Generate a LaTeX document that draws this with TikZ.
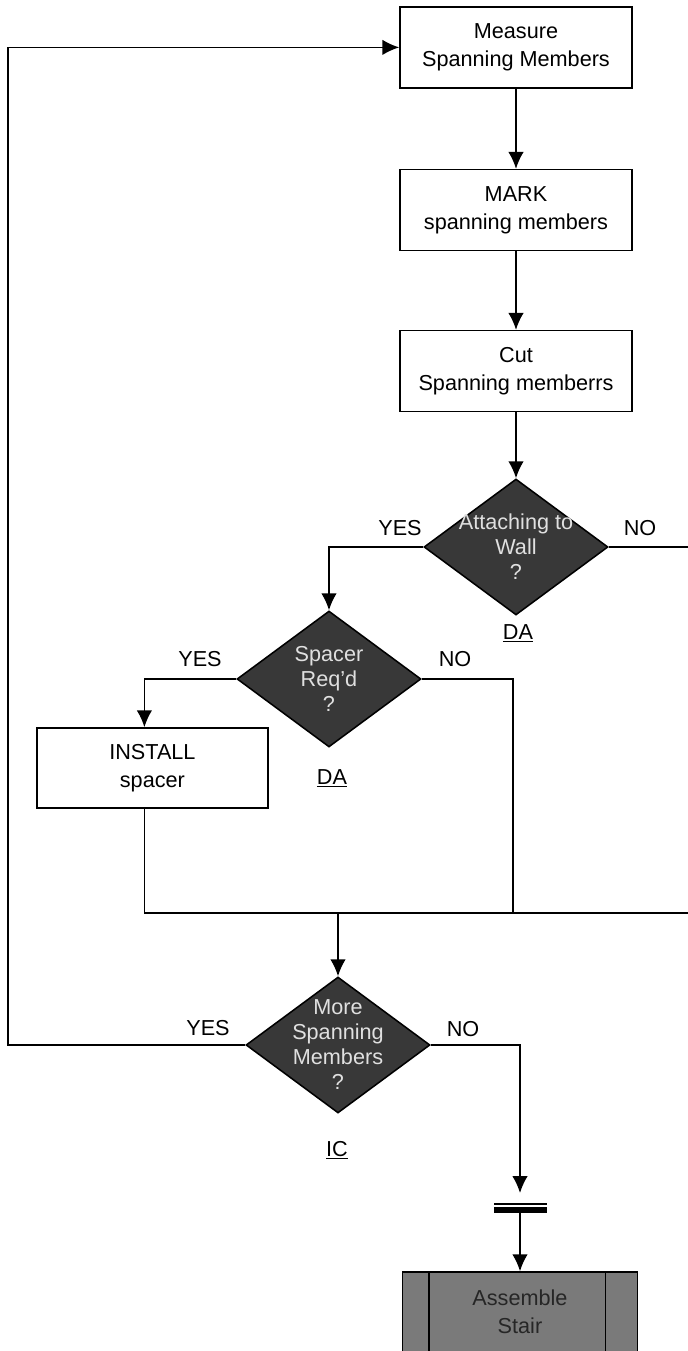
\documentclass[tikz,border=0pt]{standalone}
\usepackage{fontspec}
\setmainfont{Liberation Sans}
\usetikzlibrary{shapes.geometric,arrows.meta}

\begin{document}
\begin{tikzpicture}[line width=1.1pt, >={Latex[length=12pt,width=11pt]},
		boite/.style={rectangle, draw, minimum width=5.8cm, minimum height=2.02cm, align=center, font=\fontsize{15.4}{20}\selectfont},
		losange/.style={diamond, draw, fill=black!78, minimum width=4.6cm, minimum height=3.4cm, inner sep=0pt},
		question/.style={align=center, text=black!12, font=\fontsize{15.4}{17.8}\selectfont},
		reponse/.style={font=\fontsize{15.4}{20}\selectfont}]
			\useasboundingbox (0,0) rectangle (17.175,33.775);
			\draw (12.9,32.59) node[boite] (M) {Measure\\Spanning Members};
			\draw (12.9,28.525) node[boite] (K) {MARK\\spanning members};
			\draw (12.9,24.5) node[boite] (C) {Cut\\Spanning memberrs};
			\draw (12.9,20.1) node[losange] (W) {} node[question] (Wt) {Attaching to\\Wall\\?};
			\draw (8.225,16.8) node[losange] (S) {} node[question] (St) {Spacer\\Req'd\\?};
			\draw (3.81,14.575) node[boite, minimum width=5.78cm, minimum height=2cm] (I) {INSTALL\\spacer};
			\draw (8.45,7.65) node[losange] (P) {} node[question] (Pt) {More\\Spanning\\Members\\?};
			\draw (13.0,0.975) node[boite, fill=black!52, text=black!85, minimum width=5.875cm, minimum height=2cm] (A) {Assemble\\Stair};
			\draw ([xshift=0.675cm]A.north west) -- ([xshift=0.675cm]A.south west);
			\draw ([xshift=-0.825cm]A.north east) -- ([xshift=-0.825cm]A.south east);
			\draw (10.0,20.575) node[reponse] (Y1) {YES};
			\draw (16.0,20.575) node[reponse] (N1) {NO};
			\draw (12.95,17.95) node[reponse] (D1) {\underline{DA}};
			\draw (5.0,17.3) node[reponse] (Y2) {YES};
			\draw (11.375,17.3) node[reponse] (N2) {NO};
			\draw (8.3,14.325) node[reponse] (D2) {\underline{DA}};
			\draw (5.2,8.075) node[reponse] (Y3) {YES};
			\draw (11.575,8.05) node[reponse] (N3) {NO};
			\draw (8.425,5.025) node[reponse] (IC) {\underline{IC}};
			\coordinate (L) at (0.2,32.59);
			\coordinate (R) at (17.6,10.95);
			\coordinate (N) at (12.825,10.95);
			\coordinate (J) at (8.45,10.95);
			\coordinate (T) at (13.0,3.95);
			\coordinate (U) at (13.0,3.47);
			\draw[->] (M) -- (K);
			\draw[->] (K) -- (C);
			\draw[->] (C) -- (W);
			\draw[->] (W.west) -| (S.north);
			\draw[->] (S.west) -| ([xshift=-0.2cm]I.north);
			\draw (W.east) -| (R) -| ([xshift=-0.2cm]I.south);
			\draw (S.east) -| (N);
			\draw[->] (J) -- (P.north);
			\draw[->] (P.west) -| (L) -- (M.west);
			\draw[->] (P.east) -| (T);
			\draw[line width=1.5pt] (12.35,3.675) -- (13.675,3.675);
			\draw[line width=4pt] (12.35,3.53) -- (13.675,3.53);
			\draw[->] (U) -- (A.north);
		\end{tikzpicture}
\end{document}
